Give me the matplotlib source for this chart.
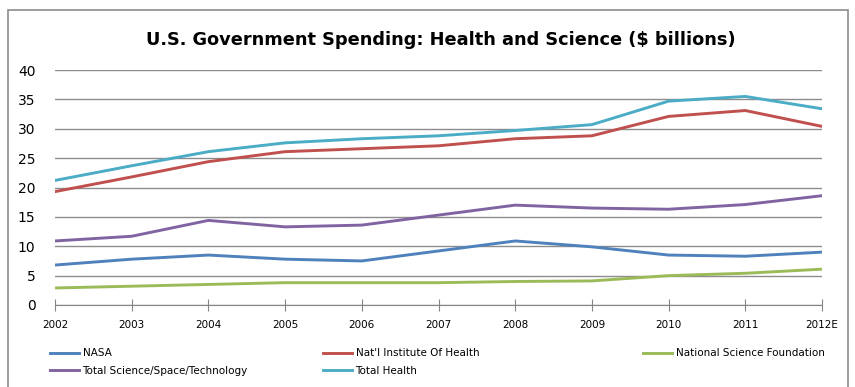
import matplotlib
matplotlib.use("Agg")
import matplotlib.pyplot as plt
from matplotlib.patches import Rectangle

years = ["2002", "2003", "2004", "2005", "2006", "2007", "2008", "2009", "2010", "2011", "2012E"]
nasa = [6.8, 7.8, 8.5, 7.8, 7.5, 9.2, 10.9, 9.9, 8.5, 8.3, 9.0]
nih = [19.3, 21.8, 24.4, 26.1, 26.6, 27.1, 28.3, 28.8, 32.1, 33.1, 30.4]
nsf = [2.9, 3.2, 3.5, 3.8, 3.8, 3.8, 4.0, 4.1, 5.0, 5.4, 6.1]
total_sci = [10.9, 11.7, 14.4, 13.3, 13.6, 15.3, 17.0, 16.5, 16.3, 17.1, 18.6]
total_health = [21.2, 23.7, 26.1, 27.6, 28.3, 28.8, 29.7, 30.7, 34.7, 35.5, 33.4]

plt.rcParams['font.family'] = ['DejaVu Sans']

fig = plt.figure(figsize=(8.55, 3.87), dpi=100)
# chart-area border
fig.patches.append(Rectangle((8/855, -0.1), 840/855, 1 - 10/387 + 0.1, transform=fig.transFigure,
                             fill=False, edgecolor='#8c8c8c', linewidth=1.2))

ax = fig.add_axes([55/855, 1 - 305/387, (822 - 55)/855, (305 - 70)/387])
x = list(range(len(years)))
l_nasa, = ax.plot(x, nasa, color='#4F81BD', lw=2.1, label='NASA')
l_nih, = ax.plot(x, nih, color='#C0504D', lw=2.1, label="Nat'l Institute Of Health")
l_nsf, = ax.plot(x, nsf, color='#9BBB59', lw=2.1, label='National Science Foundation')
l_sci, = ax.plot(x, total_sci, color='#8064A2', lw=2.1, label='Total Science/Space/Technology')
l_th, = ax.plot(x, total_health, color='#4BACC6', lw=2.1, label='Total Health')

ax.set_xlim(0, len(years) - 1)
ax.set_ylim(0, 40)
ax.set_yticks(range(0, 41, 5))
ax.set_xticks(x)
ax.set_xticklabels(years, fontsize=7.5)
ax.tick_params(axis='y', length=0, labelsize=10, pad=14)
ax.tick_params(axis='x', direction='inout', length=8, color='#868686', pad=7)
ax.grid(axis='y', color='#8c8c8c', lw=1)
ax.set_axisbelow(True)
for s in ['top', 'right', 'left']:
    ax.spines[s].set_visible(False)
ax.spines['bottom'].set_color('#868686')

fig.text(0.515, 1 - 40/387, 'U.S. Government Spending: Health and Science ($ billions)',
         ha='center', va='center', fontsize=12.8, fontweight='bold')

# one legend per column, placed like the Excel legend
legend_cols = [([l_nasa, l_sci], 45), ([l_nih, l_th], 318), ([l_nsf], 638)]
for hs, px in legend_cols:
    fig.legend(handles=hs, labels=[h.get_label() for h in hs],
               loc='upper left', bbox_to_anchor=(px/855, 1 - 343/387), frameon=False,
               fontsize=7.5, handlelength=2.8, handletextpad=0.3,
               labelspacing=0.75, borderpad=0)

fig.savefig('out.png', dpi=100)
